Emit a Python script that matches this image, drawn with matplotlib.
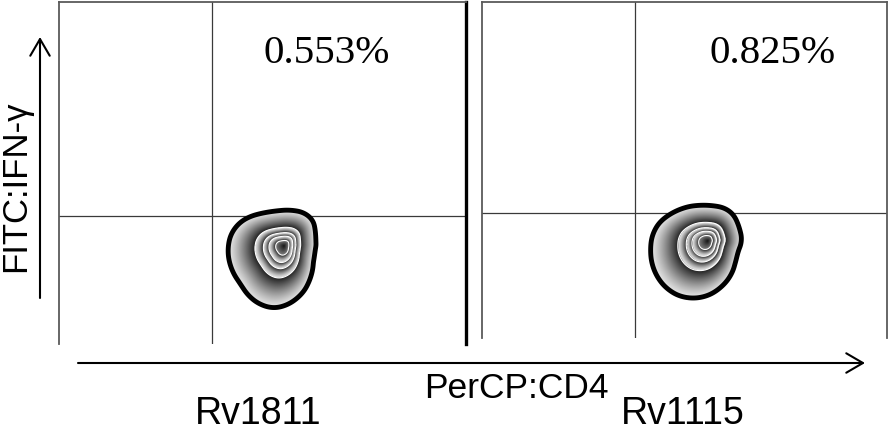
import matplotlib
matplotlib.use("Agg")
import matplotlib.pyplot as plt
from matplotlib.patches import FancyArrowPatch
import numpy as np

W, H = 889, 433

# sample names and frequency of the upper-right (IFN-g+ CD4+) quadrant
samples = ["Rv1811", "Rv1115"]
percent_labels = ["0.553%", "0.825%"]

# quadrant gates on a 0-1000 channel scale: (CD4 gate, IFN-g gate)
gates = [(376, 374), (378, 372)]

# density peak of the CD4+ population (channels)
peaks = [(553, 287), (556, 289)]

# outermost contour of each population (channels)
outline_rv1811_x = [617, 627, 624, 619, 604, 573, 523, 489, 467, 432, 418, 420, 432, 467, 518, 580]
outline_rv1811_y = [377, 319, 260, 216, 161, 120, 99, 108, 152, 202, 249, 307, 342, 371, 383, 389]
outline_rv1115_x = [612, 630, 625, 612, 580, 521, 482, 447, 420, 420, 427, 472, 556]
outline_rv1115_y = [381, 336, 247, 188, 140, 113, 125, 158, 229, 289, 327, 372, 393]
outlines = [(outline_rv1811_x, outline_rv1811_y), (outline_rv1115_x, outline_rv1115_y)]

# zebra contours as a fraction of the outer contour, outermost first
contour_steps = [1.0, 0.52, 0.37, 0.27, 0.15]

# panel boxes in pixels: left, top, right, bottom
boxes = [(59, 2, 466, 344), (482, 2, 887, 338)]


def radial_distance(X, Y, peak, outline):
    # distance from the peak relative to the outer contour in that direction
    px, py = peak
    ox = np.array(outline[0]) - px
    oy = np.array(outline[1]) - py
    ang = np.arctan2(oy, ox)
    rad = np.hypot(ox, oy)
    order = np.argsort(ang)
    theta = np.linspace(-np.pi, np.pi, 360, endpoint=False)
    r = np.interp(theta, ang[order], rad[order], period=2 * np.pi)
    # circular smoothing of the outline radius
    n = 17
    k = np.ones(2 * n + 1) / (2 * n + 1)
    r = np.convolve(np.concatenate([r[-n:], r, r[:n]]), k, mode="valid")
    dx, dy = X - px, Y - py
    a = np.arctan2(dy, dx)
    R = np.interp(a, theta, r, period=2 * np.pi)
    return np.hypot(dx, dy) / R


def zebra_image(S):
    # grey ramp inside each band: light at the outer edge, dark at the inner edge
    rgba = np.zeros(S.shape + (4,))
    edges = contour_steps + [0.0]
    for hi, lo in zip(edges[:-1], edges[1:]):
        m = (S <= hi) & (S >= lo)
        t = (hi - S[m]) / (hi - lo)
        if lo == 0.0:
            g = 0.5 - 0.42 * t
        else:
            g = 0.9 - 0.78 * t ** 1.3
        rgba[m, 0] = g
        rgba[m, 1] = g
        rgba[m, 2] = g
        rgba[m, 3] = 1.0
    return rgba


fig = plt.figure(figsize=(W / 100, H / 100), dpi=100)

xs = np.linspace(0, 1000, 800)
X, Y = np.meshgrid(xs, xs)

for i, (box, peak, outline, gate) in enumerate(zip(boxes, peaks, outlines, gates)):
    l, t, r, b = box
    ax = fig.add_axes([l / W, 1 - b / H, (r - l) / W, (b - t) / H])
    ax.set_xlim(0, 1000)
    ax.set_ylim(0, 1000)
    ax.set_xticks([])
    ax.set_yticks([])

    S = radial_distance(X, Y, peak, outline)
    ax.imshow(zebra_image(S), extent=(0, 1000, 0, 1000), origin="lower",
              aspect="auto", interpolation="bilinear", zorder=2)
    ax.contour(X, Y, S, [1.0], colors="black", linewidths=3.5, zorder=3)
    ax.contour(X, Y, S, sorted(contour_steps[1:]), colors="white",
               linewidths=0.8, zorder=3)

    ax.axvline(gate[0], color="#3a3a3a", lw=0.9, zorder=1)
    ax.axhline(gate[1], color="#3a3a3a", lw=0.9, zorder=1)

    ax.spines["bottom"].set_visible(False)
    for side in ["left", "top", "right"]:
        ax.spines[side].set_color("#5a5a5a")
        ax.spines[side].set_linewidth(1.3)
    if i == 0:
        ax.spines["right"].set_color("black")
        ax.spines["right"].set_linewidth(2.4)

# quadrant percentages
fig.text(327 / W, 1 - 63 / H, percent_labels[0], ha="center", va="baseline",
         family="Liberation Serif", size=29.5)
fig.text(773 / W, 1 - 63 / H, percent_labels[1], ha="center", va="baseline",
         family="Liberation Serif", size=29.5)

# axis arrows
arrow_style = "->,head_length=12,head_width=7"
fig.add_artist(FancyArrowPatch((40 / W, 1 - 298 / H), (40 / W, 1 - 37 / H),
                               transform=fig.transFigure, arrowstyle=arrow_style,
                               mutation_scale=1, lw=1.5, color="black",
                               shrinkA=0, shrinkB=0))
fig.add_artist(FancyArrowPatch((78 / W, 1 - 363 / H), (865 / W, 1 - 363 / H),
                               transform=fig.transFigure, arrowstyle=arrow_style,
                               mutation_scale=1, lw=1.5, color="black",
                               shrinkA=0, shrinkB=0))

# axis labels
fig.text(25 / W, 1 - 186 / H, "FITC:IFN-γ", rotation=90, rotation_mode="anchor",
         ha="center", va="baseline", family="Liberation Sans", size=25)
fig.text(516 / W, 1 - 398 / H, "PerCP:CD4", ha="center", va="baseline",
         family="Liberation Sans", size=25.5)
fig.text(258 / W, 1 - 424 / H, samples[0], ha="center", va="baseline",
         family="Liberation Sans", size=27)
fig.text(683 / W, 1 - 424 / H, samples[1], ha="center", va="baseline",
         family="Liberation Sans", size=27)

fig.savefig("out.png", dpi=100)
